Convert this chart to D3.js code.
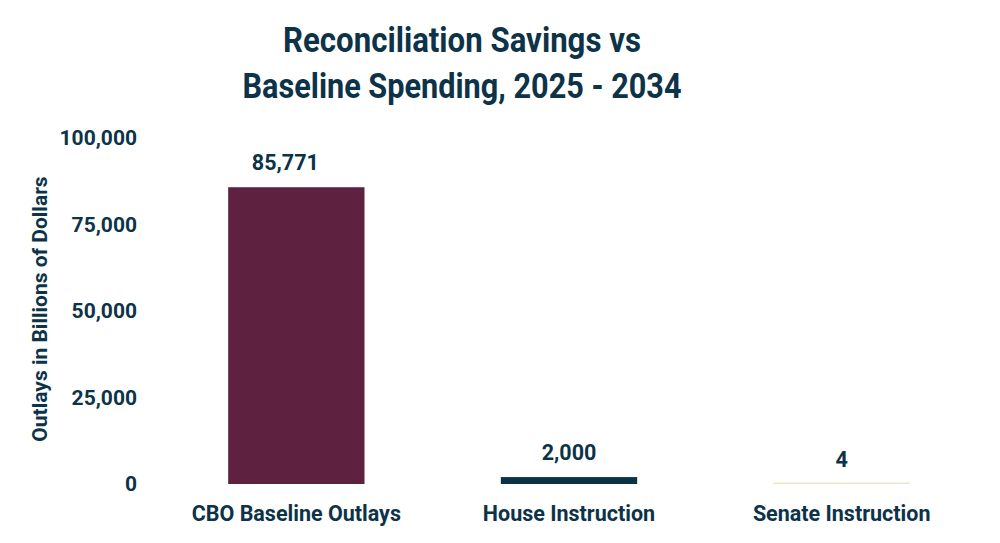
<!DOCTYPE html>
<html>
<head>
<meta charset="utf-8">
<script src="https://cdn.jsdelivr.net/npm/d3@7"></script>
<style>
  body { margin: 0; background: #fff; }
  text { fill: #0d3349; font-family: Roboto, "Liberation Sans", sans-serif; font-weight: 700; }
  .title { font-family: Roboto, "Liberation Sans", sans-serif; font-size: 35px; font-weight: 700; }
  .tick-label { font-size: 21px; }
  .cat-label { font-size: 21.5px; }
  .value-label { font-size: 21.5px; }
  .y-title { font-size: 21px; }
</style>
</head>
<body>
<div id="chart"></div>
<script>
'use strict';

var categories = ["CBO Baseline Outlays", "House Instruction", "Senate Instruction"];
var values = [85771, 2000, 4];
var barColors = ["#5e2240", "#0b3145", "#f3e3c3"];
var yTicks = [0, 25000, 50000, 75000, 100000];
var titleLines = ["Reconciliation Savings vs", "Baseline Spending, 2025 - 2034"];
var yTitle = "Outlays in Billions of Dollars";

var width = 1000, height = 543;
var margins = {top: 138, left: 160, right: 22, bottom: 59};

var svg = d3.select("#chart").append("svg")
    .attr("width", width)
    .attr("height", height);

var xScale = d3.scaleBand()
    .domain(categories)
    .range([margins.left, width - margins.right])
    .paddingInner(0.5)
    .paddingOuter(0.25);

var yScale = d3.scaleLinear()
    .domain([0, 100000])
    .range([height - margins.bottom, margins.top]);

// title, squeezed to the condensed look of the original
var titleWidths = [358, 439];
svg.append("g").selectAll("text")
    .data(titleLines)
    .enter()
    .append("text")
    .attr("class", "title")
    .attr("text-anchor", "middle")
    .attr("x", 462)
    .attr("y", function (d, i) { return 52 + i * 46; })
    .attr("textLength", function (d, i) { return titleWidths[i]; })
    .attr("lengthAdjust", "spacingAndGlyphs")
    .text(function (d) { return d; });

// y axis (labels only)
var yAxis = d3.axisLeft(yScale)
    .tickValues(yTicks)
    .tickFormat(d3.format(","))
    .tickSize(0)
    .tickPadding(0);

var yG = svg.append("g")
    .attr("transform", "translate(137,0)")
    .call(yAxis);
yG.select(".domain").remove();
yG.selectAll("text")
    .attr("class", "tick-label")
    .attr("fill", null);

svg.append("text")
    .attr("class", "y-title")
    .attr("text-anchor", "middle")
    .attr("transform", "translate(47," + (yScale(50000) - 2) + ") rotate(-90)")
    .text(yTitle);

// bars
var bars = categories.map(function (c, i) {
    return {category: c, value: values[i], color: barColors[i]};
});

svg.append("g").selectAll("rect")
    .data(bars)
    .enter()
    .append("rect")
    .attr("x", function (d) { return xScale(d.category); })
    .attr("width", xScale.bandwidth())
    .attr("y", function (d) { return Math.min(yScale(d.value), yScale(0) - 1.5); })
    .attr("height", function (d) { return Math.max(yScale(0) - yScale(d.value), 1.5); })
    .style("fill", function (d) { return d.color; });

svg.append("g").selectAll("text")
    .data(bars)
    .enter()
    .append("text")
    .attr("class", "value-label")
    .attr("text-anchor", "middle")
    .attr("x", function (d) { return xScale(d.category) + xScale.bandwidth() / 2; })
    .attr("dx", function (d, i) { return i === 0 ? -11 : 0; })
    .attr("y", function (d) { return yScale(d.value) - 17; })
    .text(function (d) { return d3.format(",")(d.value); });

// x axis (labels only)
var xAxis = d3.axisBottom(xScale).tickSize(0).tickPadding(0);
var xG = svg.append("g")
    .attr("transform", "translate(0,505)")
    .call(xAxis);
xG.select(".domain").remove();
xG.selectAll("text")
    .attr("class", "cat-label")
    .attr("fill", null)
    .attr("dy", "0.75em");

svg.selectAll("g").attr("font-family", null).attr("font-size", null);
</script>
</body>
</html>
